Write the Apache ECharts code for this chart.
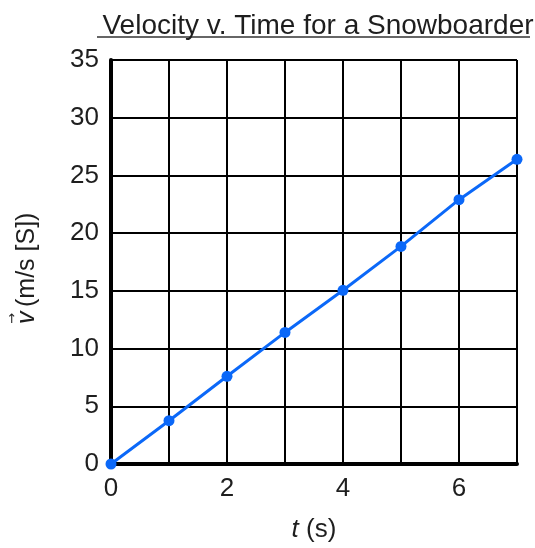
<!DOCTYPE html>
<html><head><meta charset="utf-8">
<script src="https://cdn.jsdelivr.net/npm/echarts@6/dist/echarts.min.js"></script>
<style>html,body{margin:0;padding:0;background:#fff}#c{width:535px;height:548px}</style>
</head><body><div id="c"></div>
<script>
const times = [0, 1, 2, 3, 4, 5, 6, 7];
const velocities = [0, 3.75, 7.6, 11.4, 15.05, 18.85, 22.9, 26.4];
const xTickLabels = ['0', '', '2', '', '4', '', '6', ''];
const yTicks = [0, 5, 10, 15, 20, 25, 30, 35];
const titleText = 'Velocity v. Time for a Snowboarder';
const yNameUnit = '(m/s [S])';
const font = 'Liberation Sans';
const ink = '#1e1e1e';

const chart = echarts.init(document.getElementById('c'));
chart.setOption({
  animation: false,
  backgroundColor: '#fff',
  title: {
    text: titleText, left: 313, top: 7, textAlign: 'center',
    textStyle: {fontFamily: font, fontSize: 28, fontWeight: 'normal', color: ink}
  },
  graphic: [
    {type: 'line', shape: {x1: 97, y1: 37, x2: 530, y2: 37},
     style: {stroke: '#333', lineWidth: 1.5}},
    {type: 'group', x: 27, y: 324, rotation: Math.PI / 2, children: [
      {type: 'text', x: 0, y: 0, style: {text: 'v', fontFamily: font, fontStyle: 'italic',
        fontSize: 25, fill: ink, textAlign: 'left', textVerticalAlign: 'middle', verticalAlign: 'middle'}},
      {type: 'text', x: 0, y: -14, style: {text: '\u2192', fontFamily: 'DejaVu Sans', fontSize: 13,
        fill: ink, textAlign: 'left', textVerticalAlign: 'middle', verticalAlign: 'middle'}},
      {type: 'text', x: 17, y: 0, style: {text: yNameUnit, fontFamily: font, fontSize: 25,
        fill: ink, textAlign: 'left', textVerticalAlign: 'middle', verticalAlign: 'middle'}}
    ]}
  ],
  grid: {left: 111, right: 18, top: 60, bottom: 83},
  xAxis: {
    type: 'value', min: 0, max: 7, interval: 1,
    name: '{i|t} (s)', nameLocation: 'middle', nameGap: 53,
    nameTextStyle: {fontFamily: font, fontSize: 26, color: ink,
      rich: {i: {fontStyle: 'italic', fontFamily: font, fontSize: 26, color: ink}}},
    axisLine: {show: true, lineStyle: {color: '#000', width: 4}},
    axisTick: {show: false},
    axisLabel: {fontFamily: font, fontSize: 26, color: ink, margin: 12,
      formatter: v => xTickLabels[times.indexOf(v)] ?? ''},
    splitLine: {show: true, lineStyle: {color: '#000', width: 2}}
  },
  yAxis: {
    type: 'value', min: 0, max: 35, interval: 5,
    axisLine: {show: true, lineStyle: {color: '#000', width: 4}},
    axisTick: {show: false},
    axisLabel: {fontFamily: font, fontSize: 26, color: ink, margin: 12,
      formatter: v => yTicks.includes(v) ? String(v) : ''},
    splitLine: {show: true, lineStyle: {color: '#000', width: 2}}
  },
  series: [{
    type: 'line', data: times.map((t, i) => [t, velocities[i]]),
    symbol: 'circle', symbolSize: 11, showAllSymbol: true,
    lineStyle: {color: '#0b68f8', width: 3},
    itemStyle: {color: '#0b68f8'}, z: 5, clip: false
  }]
});
</script></body></html>
